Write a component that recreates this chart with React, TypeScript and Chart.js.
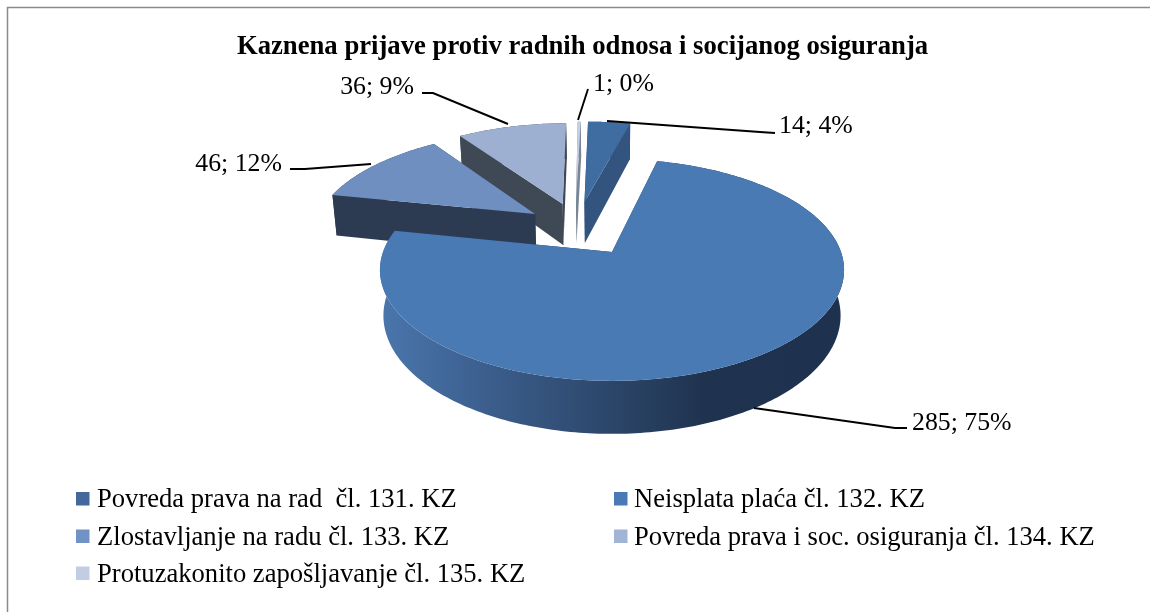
import React, { useEffect, useRef } from "react";
import { Chart, registerables, PieController, ArcElement } from "chart.js";

// ---------- data ----------
const chartTitle = "Kaznena prijave protiv radnih odnosa i socijanog osiguranja";
const categories = [
  "Povreda prava na rad  čl. 131. KZ",
  "Neisplata plaća čl. 132. KZ",
  "Zlostavljanje na radu čl. 133. KZ",
  "Povreda prava i soc. osiguranja čl. 134. KZ",
  "Protuzakonito zapošljavanje čl. 135. KZ",
];
const reportCounts = [14, 285, 46, 36, 1];

// ---------- styles ----------
const topColors = ["#3f6ca1", "#4a7ab3", "#6f8fc0", "#9db0d2", "#c3d0e4"];
const sideColors = ["#32547f", "#1e3250", "#2d3b52", "#3f4855", "#7b8595"];
const legendColors = ["#43699c", "#4a7ab5", "#7092c4", "#a0b4d6", "#c0cde3"];
const SERIF = '"Liberation Serif", "Times New Roman", serif';

// projection of the tilted disc
const P = { cx: 612, cy: 252, rx: 229, ry: 108, k: 0.162, depth: 44.4, shrink: 0.985 };
// explosion of each slice in disc units (u to the right, v to the back)
const explode: [number, number][] = [
  [-0.13, 0.5],
  [0, 0],
  [-0.356, 0.373],
  [-0.232, 0.479],
  [-0.17, 0.5],
];
const paintOrder = [0, 4, 3, 2, 1];

// leader lines and label anchors
const leaders: [number, number][][] = [
  [[607, 121], [760, 132], [775, 133]],
  [[754, 408], [895, 428], [907, 428]],
  [[371, 164], [305, 169], [290, 169]],
  [[508, 124], [433, 93], [422, 93]],
  [[578, 120], [588, 89]],
];
const labelAt: [number, number, CanvasTextAlign][] = [
  [779, 133, "left"],
  [912, 430, "left"],
  [282, 171, "right"],
  [414, 94, "right"],
  [593, 91, "left"],
];
const legendCols = [76, 614];
const legendTextGap = [21, 20];
const legendRows = [507, 544.5, 581.5];
const legendSlots: [number, number][] = [[0, 0], [1, 0], [0, 1], [1, 1], [0, 2]];

function project(u: number, v: number, low: boolean): [number, number] {
  const s = 1 + P.k * v;
  let x = P.cx + (P.rx * u) / s;
  let y = P.cy - (P.ry * v) / s;
  if (low) {
    x = P.cx + (x - P.cx) * P.shrink;
    y += P.depth / s;
  }
  return [x, y];
}

function fillPoly(ctx: CanvasRenderingContext2D, pts: [number, number][], fill: any) {
  ctx.beginPath();
  pts.forEach((p, i) => (i ? ctx.lineTo(p[0], p[1]) : ctx.moveTo(p[0], p[1])));
  ctx.closePath();
  ctx.fillStyle = fill;
  ctx.fill();
}

class Arc3D extends ArcElement {
  static id = "arc3d";
  draw(ctx: CanvasRenderingContext2D) {
    const { startAngle, endAngle } = (this as any).getProps(["startAngle", "endAngle"]);
    const opts = (this as any).options;
    const index = (this as any).$context.dataIndex;
    const [ou, ov] = explode[index];
    const a0 = startAngle + Math.PI / 2;
    const a1 = endAngle + Math.PI / 2;
    const steps = Math.max(4, Math.ceil(((a1 - a0) * 180) / Math.PI));
    const rim: [number, number][] = [];
    for (let i = 0; i <= steps; i++) {
      const a = a0 + ((a1 - a0) * i) / steps;
      rim.push([ou + Math.sin(a), ov + Math.cos(a)]);
    }
    const up = (p: [number, number]) => project(p[0], p[1], false);
    const dn = (p: [number, number]) => project(p[0], p[1], true);
    const apex: [number, number] = [ou, ov];
    const side = opts.borderColor;

    ctx.save();
    // radial walls
    for (const e of [rim[0], rim[rim.length - 1]]) {
      fillPoly(ctx, [up(apex), up(e), dn(e), dn(apex)], side);
    }
    // outer wall
    let outer: any = side;
    if (index === 1) {
      const g = ctx.createLinearGradient(382, 0, 842, 0);
      g.addColorStop(0, "#4a76ad");
      g.addColorStop(0.25, "#3a5c8a");
      g.addColorStop(0.5, "#2c4669");
      g.addColorStop(0.7, "#1f334f");
      g.addColorStop(1, "#1e3250");
      outer = g;
    }
    fillPoly(ctx, [...rim.map(up), ...rim.slice().reverse().map(dn)], outer);
    // top face
    fillPoly(ctx, [up(apex), ...rim.map(up)], opts.backgroundColor);
    ctx.restore();
  }
}

class Pie3DController extends PieController {
  static id = "pie3d";
  static defaults = { dataElementType: "arc3d" };
  draw() {
    const self = this as any;
    const meta = self._cachedMeta;
    paintOrder.forEach((i) => meta.data[i].draw(self._ctx));
  }
}

const frame = {
  id: "frame",
  beforeDraw(chart: any) {
    const c = chart.ctx;
    c.save();
    c.fillStyle = "#ffffff";
    c.fillRect(0, 0, chart.width, chart.height);
    c.strokeStyle = "#8a8a8a";
    c.lineWidth = 1.5;
    c.beginPath();
    c.moveTo(chart.width, 7.5);
    c.lineTo(7.5, 7.5);
    c.lineTo(7.5, chart.height);
    c.stroke();
    c.restore();
  },
};

const annotate = {
  id: "annotate",
  afterDraw(chart: any) {
    const c = chart.ctx;
    const values: number[] = chart.data.datasets[0].data;
    const total = values.reduce((a, b) => a + b, 0);
    c.save();
    c.strokeStyle = "#000000";
    c.lineWidth = 1.9;
    leaders.forEach((pts) => {
      c.beginPath();
      pts.forEach((p, i) => (i ? c.lineTo(p[0], p[1]) : c.moveTo(p[0], p[1])));
      c.stroke();
    });
    c.fillStyle = "#000000";
    c.font = `25.8px ${SERIF}`;
    c.textBaseline = "alphabetic";
    values.forEach((v, i) => {
      const [x, y, align] = labelAt[i];
      c.textAlign = align;
      c.fillText(`${v}; ${Math.round((v / total) * 100)}%`, x, y);
    });
    // legend in two columns
    c.textAlign = "left";
    c.font = `26.6px ${SERIF}`;
    (chart.data.labels as string[]).forEach((label, i) => {
      const [col, row] = legendSlots[i];
      const x = legendCols[col];
      const y = legendRows[row];
      c.fillStyle = legendColors[i];
      c.fillRect(x, y - 15, 13.5, 13.5);
      c.fillStyle = "#000000";
      c.fillText(label, x + legendTextGap[col], y);
    });
    c.restore();
  },
};

Chart.register(...registerables, Arc3D as any, Pie3DController as any);

export default function App() {
  const ref = useRef<HTMLCanvasElement>(null);
  useEffect(() => {
    const chart = new Chart(ref.current as HTMLCanvasElement, {
      type: "pie3d" as any,
      data: {
        labels: categories,
        datasets: [
          {
            data: reportCounts,
            backgroundColor: topColors,
            borderColor: sideColors,
            borderWidth: 0,
          },
        ],
      },
      options: {
        responsive: false,
        animation: false,
        devicePixelRatio: 1,
        layout: { padding: { left: 15, top: 34 } },
        plugins: {
          legend: { display: false },
          tooltip: { enabled: false },
          title: {
            display: true,
            text: chartTitle,
            color: "#000000",
            font: { family: SERIF, size: 26.7, weight: "bold", lineHeight: 1 },
            padding: { top: 0, bottom: 10 },
          },
        },
      },
      plugins: [frame, annotate],
    } as any);
    return () => chart.destroy();
  }, []);
  return (
    <canvas
      ref={ref}
      width={1150}
      height={612}
      style={{ position: "fixed", left: 0, top: 0, width: 1150, height: 612, display: "block" }}
    />
  );
}
